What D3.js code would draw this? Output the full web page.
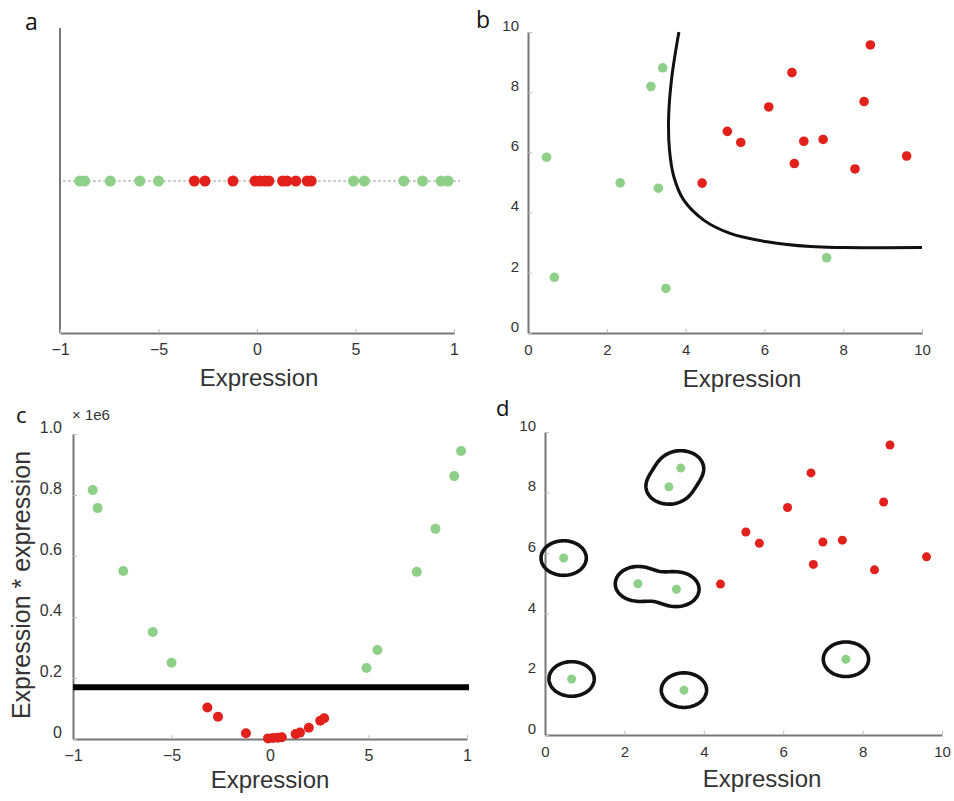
<!DOCTYPE html>
<html>
<head>
<meta charset="utf-8">
<script src="https://cdn.jsdelivr.net/npm/d3@7"></script>
<style>
  html, body { margin: 0; padding: 0; background: #fff; }
  svg { display: block; }
  .tick text { font-family: "Liberation Sans", Arial, sans-serif; fill: #333; }
</style>
</head>
<body>
<svg id="chart" width="954" height="801"></svg>
<script>
// ---------- DATA ----------
// Panels a & c: 1-D expression values
const oneDTickValues = [-10, -5, 0, 5, 10];
const oneDTickLabels = ["\u22121", "\u22125", "0", "5", "1"];
const greenX1D = [-9.0, -8.75, -7.45, -5.95, -5.0, 4.9, 5.45, 7.45, 8.4, 9.35, 9.7];
const redX1D   = [-3.18, -2.64, -1.22, -0.1, 0.15, 0.4, 0.6, 1.3, 1.52, 1.97, 2.55, 2.75];
// Panel c: squared expression (x 1e6)
const greenSq  = [0.816, 0.757, 0.551, 0.351, 0.25, 0.233, 0.292, 0.548, 0.689, 0.862, 0.944];
const redSq    = [0.103, 0.073, 0.019, 0.002, 0.003, 0.004, 0.006, 0.016, 0.021, 0.037, 0.060, 0.068];
const cThreshold = 0.17;
const cTickValues = [0, 0.2, 0.4, 0.6, 0.8, 1.0];
const cTickLabels = ["0", "0.2", "0.4", "0.6", "0.8", "1.0"];

// Panels b & d: 2-D expression values
const twoDTickValues = [0, 2, 4, 6, 8, 10];
const greenX2D = [0.47, 0.67, 2.34, 3.12, 3.42, 3.31, 3.5, 7.58];
const greenY2D = [5.84, 1.85, 4.99, 8.19, 8.81, 4.81, 1.48, 2.5];
const redX2D   = [4.42, 5.06, 5.4, 6.11, 6.7, 6.76, 7.0, 7.49, 8.3, 8.53, 8.69, 9.61];
const redY2D   = [4.98, 6.7, 6.33, 7.51, 8.65, 5.63, 6.37, 6.43, 5.45, 7.69, 9.57, 5.88];
// Panel b: decision boundary
const boundaryX = [3.83, 3.65, 3.57, 3.59, 3.7, 3.95, 4.46, 5.13, 6.07, 7.17, 8.0, 10];
const boundaryY = [10.0, 8.5, 7.2, 6.1, 5.2, 4.42, 3.75, 3.31, 3.03, 2.87, 2.84, 2.84];

// ---------- STYLE ----------
const RED = "#e3211c", GREEN = "#8fd088", AXIS = "#777";
const FONT = '"Liberation Sans", Arial, sans-serif';
const svg = d3.select("#chart");
svg.append("rect").attr("width", 954).attr("height", 801).attr("fill", "#fff");

function styleAxis(g, fs) {
  g.select(".domain").attr("stroke", AXIS).attr("stroke-width", 2);
  g.selectAll(".tick line").attr("stroke", "#bbb").attr("stroke-width", 1);
  g.selectAll(".tick text").attr("font-size", fs);
}
function xAxis(g, scale, y, values, labels, fs) {
  const ax = d3.axisBottom(scale).tickValues(values)
    .tickFormat((d, i) => labels ? labels[i] : d)
    .tickSizeInner(-4).tickSizeOuter(0).tickPadding(11);
  const gg = g.append("g").attr("transform", `translate(0,${y})`).call(ax);
  styleAxis(gg, fs);
  return gg;
}
function yAxis(g, scale, x, values, labels, fs) {
  const ax = d3.axisLeft(scale).tickValues(values)
    .tickFormat((d, i) => labels ? labels[i] : d)
    .tickSizeInner(-4).tickSizeOuter(0).tickPadding(9);
  const gg = g.append("g").attr("transform", `translate(${x},0)`).call(ax);
  styleAxis(gg, fs);
  gg.selectAll(".tick text").attr("dy", "-0.12em");
  return gg;
}
function panelLabel(x, y, t, size) {
  svg.append("text").attr("x", x).attr("y", y).text(t)
    .attr("font-family", '"Open Sans", "Noto Sans", sans-serif')
    .attr("font-size", size || 23).attr("fill", "#111");
}
function xTitle(x, y) {
  svg.append("text").attr("x", x).attr("y", y).attr("text-anchor", "middle")
    .attr("font-family", FONT).attr("font-size", 24).attr("fill", "#333").text("Expression");
}

// ---------- PANEL A ----------
{
  const g = svg.append("g");
  const x = d3.scaleLinear().domain([-10, 10]).range([60, 454]);
  const yRow = 181;
  g.append("line").attr("x1", 63).attr("x2", 460).attr("y1", yRow).attr("y2", yRow)
    .attr("stroke", "#bdbdbd").attr("stroke-width", 1.5).attr("stroke-dasharray", "3,2");
  g.append("line").attr("x1", 60).attr("x2", 60).attr("y1", 28).attr("y2", 333)
    .attr("stroke", AXIS).attr("stroke-width", 2);
  xAxis(g, x, 333, oneDTickValues, oneDTickLabels, 16);
  g.selectAll("circle.g").data(greenX1D).join("circle").attr("class", "g")
    .attr("cx", d => x(d)).attr("cy", yRow).attr("r", 5.5).attr("fill", GREEN);
  g.selectAll("circle.r").data(redX1D).join("circle").attr("class", "r")
    .attr("cx", d => x(d)).attr("cy", yRow).attr("r", 5.5).attr("fill", RED);
  xTitle(259, 386);
  panelLabel(25, 30, "a");
}

// ---------- PANEL B ----------
{
  const g = svg.append("g");
  const x = d3.scaleLinear().domain([0, 10]).range([528, 922]);
  const y = d3.scaleLinear().domain([0, 10]).range([333, 32]);
  xAxis(g, x, 333, twoDTickValues, null, 15);
  yAxis(g, y, 528, twoDTickValues, null, 15);
  const pts = boundaryX.map((d, i) => [d, boundaryY[i]]);
  g.append("path").attr("d", d3.line().x(d => x(d[0])).y(d => y(d[1]))
      .curve(d3.curveCatmullRom.alpha(0.5))(pts))
    .attr("fill", "none").attr("stroke", "#111").attr("stroke-width", 3);
  g.selectAll("circle.g").data(greenX2D).join("circle").attr("class", "g")
    .attr("cx", d => x(d)).attr("cy", (d, i) => y(greenY2D[i])).attr("r", 4.8).attr("fill", GREEN);
  g.selectAll("circle.r").data(redX2D).join("circle").attr("class", "r")
    .attr("cx", d => x(d)).attr("cy", (d, i) => y(redY2D[i])).attr("r", 4.8).attr("fill", RED);
  xTitle(742, 387);
  panelLabel(476, 28, "b");
}

// ---------- PANEL C ----------
{
  const g = svg.append("g");
  const x = d3.scaleLinear().domain([-10, 10]).range([73, 467]);
  const y = d3.scaleLinear().domain([0, 1]).range([739, 434]);
  xAxis(g, x, 739, oneDTickValues, oneDTickLabels, 16);
  const ya = yAxis(g, y, 73, cTickValues, cTickLabels, 16);
  ya.selectAll(".tick text").attr("dx", "-2");
  g.append("line").attr("x1", x(-10)).attr("x2", x(10) + 2)
    .attr("y1", y(cThreshold)).attr("y2", y(cThreshold))
    .attr("stroke", "#000").attr("stroke-width", 6);
  g.selectAll("circle.g").data(greenX1D).join("circle").attr("class", "g")
    .attr("cx", d => x(d)).attr("cy", (d, i) => y(greenSq[i])).attr("r", 5).attr("fill", GREEN);
  g.selectAll("circle.r").data(redX1D).join("circle").attr("class", "r")
    .attr("cx", d => x(d)).attr("cy", (d, i) => y(redSq[i])).attr("r", 5).attr("fill", RED);
  svg.append("text").attr("x", 72).attr("y", 420).attr("font-family", FONT)
    .attr("font-size", 15).attr("fill", "#333").text("\u00d7 1e6");
  svg.append("text").attr("transform", "translate(30,585) rotate(-90)")
    .attr("text-anchor", "middle").attr("font-family", FONT).attr("font-size", 25)
    .attr("fill", "#333").text("Expression * expression");
  xTitle(270, 788);
  panelLabel(16, 423, "c", 22);
}

// ---------- PANEL D ----------
{
  const g = svg.append("g");
  const x = d3.scaleLinear().domain([0, 10]).range([545, 942]);
  const y = d3.scaleLinear().domain([0, 10]).range([735, 432]);
  xAxis(g, x, 735, twoDTickValues, null, 15);
  yAxis(g, y, 545, twoDTickValues, null, 15);
  // RBF-kernel style boundary around the green points
  const x0 = -1.5, y0 = -1.5, step = 0.04, n = Math.round(13 / step);
  const sigma = 0.35, level = Math.exp(-(0.57 * 0.57) / (2 * sigma * sigma));
  const vals = new Float64Array(n * n);
  for (let j = 0; j < n; j++) for (let i = 0; i < n; i++) {
    const px = x0 + i * step, py = y0 + j * step;
    let s = 0;
    for (let k = 0; k < greenX2D.length; k++) {
      const dx = px - greenX2D[k], dy = py - greenY2D[k];
      s += Math.exp(-(dx * dx + dy * dy) / (2 * sigma * sigma));
    }
    vals[j * n + i] = s;
  }
  const contours = d3.contours().size([n, n]).thresholds([level])(vals);
  const proj = d3.geoTransform({ point(px, py) {
    this.stream.point(x(x0 + (px - 0.5) * step), y(y0 + (py - 0.5) * step));
  }});
  g.selectAll("path.c").data(contours).join("path").attr("class", "c")
    .attr("d", d3.geoPath(proj)).attr("fill", "none").attr("stroke", "#111").attr("stroke-width", 3.6);
  g.selectAll("circle.g").data(greenX2D).join("circle").attr("class", "g")
    .attr("cx", d => x(d)).attr("cy", (d, i) => y(greenY2D[i])).attr("r", 4.5).attr("fill", GREEN);
  g.selectAll("circle.r").data(redX2D).join("circle").attr("class", "r")
    .attr("cx", d => x(d)).attr("cy", (d, i) => y(redY2D[i])).attr("r", 4.5).attr("fill", RED);
  xTitle(762, 787);
  panelLabel(496, 416, "d", 22);
}
</script>
</body>
</html>
